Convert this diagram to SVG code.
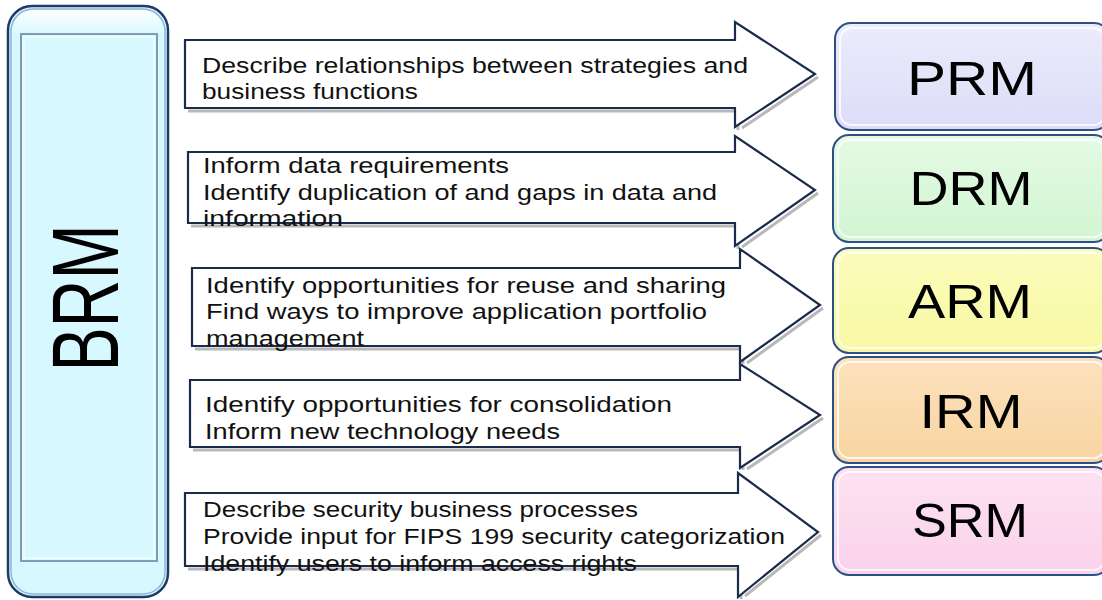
<svg xmlns="http://www.w3.org/2000/svg" width="1102" height="600" viewBox="0 0 1102 600">
<defs>
<linearGradient id="brmTop" x1="0" y1="0" x2="0" y2="1">
<stop offset="0" stop-color="#ffffff"/>
<stop offset="1" stop-color="#d8f8ff"/>
</linearGradient>
<linearGradient id="gPRM" x1="0" y1="0" x2="0" y2="1"><stop offset="0" stop-color="#ececfc"/><stop offset="1" stop-color="#dcdcf8"/></linearGradient>
<linearGradient id="gDRM" x1="0" y1="0" x2="0" y2="1"><stop offset="0" stop-color="#e4fae4"/><stop offset="1" stop-color="#d2f5d2"/></linearGradient>
<linearGradient id="gARM" x1="0" y1="0" x2="0" y2="1"><stop offset="0" stop-color="#fcfcbc"/><stop offset="1" stop-color="#f8f8a4"/></linearGradient>
<linearGradient id="gIRM" x1="0" y1="0" x2="0" y2="1"><stop offset="0" stop-color="#fce2bc"/><stop offset="1" stop-color="#f8d4a2"/></linearGradient>
<linearGradient id="gSRM" x1="0" y1="0" x2="0" y2="1"><stop offset="0" stop-color="#fde2f2"/><stop offset="1" stop-color="#fad2ea"/></linearGradient>
</defs>
<style>
.arrow{fill:#ffffff;stroke:#1b2b4b;stroke-width:2.2;stroke-linejoin:miter}
.ashadow{fill:none;stroke:#9a9a9a;stroke-width:3;opacity:0.7}
.atext{font-family:"Liberation Sans","Open Sans",sans-serif;font-size:22px;fill:#111111}
.box{stroke:#2c4f86;stroke-width:2}
.boxin{fill:none;stroke:#ffffff;stroke-width:2;opacity:0.8}
.label{font-family:"Liberation Sans","Open Sans",sans-serif;font-size:49px;fill:#000000;text-anchor:middle}
</style>

<g id="BRM">
<rect x="8" y="6" width="160" height="591" rx="24" ry="24" fill="#d8f8ff" stroke="#1f3a66" stroke-width="2.5"/>
<rect x="11" y="9" width="154" height="585" rx="22" ry="22" fill="none" stroke="#8fb6d6" stroke-width="1.5"/>
<path d="M12,34 Q14,10 36,10 L140,10 Q162,10 164,34 Z" fill="url(#brmTop)"/>
<rect x="21" y="34" width="136" height="527" fill="#d8f8ff" stroke="#7f9cb4" stroke-width="2"/>
<rect x="24" y="37" width="130" height="521" fill="none" stroke="#ffffff" stroke-width="1.5" opacity="0.8"/>
<text transform="translate(118,298) rotate(-90)" font-family="Liberation Sans, Arial, sans-serif" font-size="94" text-anchor="middle" textLength="147" lengthAdjust="spacingAndGlyphs" fill="#000">BRM</text>
</g>

<g id="connectors">
<g id="arrow1">
<path class="ashadow" d="M188,111 L738,111 L738,130 M742,128 L818,77"/>
<path class="arrow" d="M185,40 L735,40 L735,22 L815,74 L735,127 L735,108 L185,108 Z"/>
<text class="atext" x="202" y="73" textLength="546" lengthAdjust="spacingAndGlyphs">Describe relationships between strategies and</text>
<text class="atext" x="202" y="99" textLength="216" lengthAdjust="spacingAndGlyphs">business functions</text>
</g>
<g id="arrow2">
<path class="ashadow" d="M191,226 L738,226 L738,249 M742,247 L818,193"/>
<path class="arrow" d="M188,152 L735,152 L735,136 L815,190 L735,246 L735,223 L188,223 Z"/>
<text class="atext" x="203" y="173" textLength="306" lengthAdjust="spacingAndGlyphs">Inform data requirements</text>
<text class="atext" x="203" y="200" textLength="514" lengthAdjust="spacingAndGlyphs">Identify duplication of and gaps in data and</text>
<text class="atext" x="203" y="226" textLength="140" lengthAdjust="spacingAndGlyphs">information</text>
</g>
<g id="arrow3">
<path class="ashadow" d="M195,349 L743,349 L743,364 M747,363 L823,308"/>
<path class="arrow" d="M192,268 L740,268 L740,249 L820,305 L740,362 L740,346 L192,346 Z"/>
<text class="atext" x="206" y="293" textLength="520" lengthAdjust="spacingAndGlyphs">Identify opportunities for reuse and sharing</text>
<text class="atext" x="206" y="319" textLength="501" lengthAdjust="spacingAndGlyphs">Find ways to improve application portfolio</text>
<text class="atext" x="206" y="346" textLength="158" lengthAdjust="spacingAndGlyphs">management</text>
</g>
<g id="arrow4">
<path class="ashadow" d="M193,450 L743,450 L743,470 M747,469 L823,418"/>
<path class="arrow" d="M190,380 L740,380 L740,364 L820,415 L740,468 L740,447 L190,447 Z"/>
<text class="atext" x="205" y="412" textLength="467" lengthAdjust="spacingAndGlyphs">Identify opportunities for consolidation</text>
<text class="atext" x="205" y="439" textLength="355" lengthAdjust="spacingAndGlyphs">Inform new technology needs</text>
</g>
<g id="arrow5">
<path class="ashadow" d="M188,569 L741,569 L741,599 M745,596 L821,535"/>
<path class="arrow" d="M185,493 L738,493 L738,473 L818,532 L738,597 L738,566 L185,566 Z"/>
<text class="atext" x="203" y="517" textLength="435" lengthAdjust="spacingAndGlyphs">Describe security business processes</text>
<text class="atext" x="203" y="544" textLength="582" lengthAdjust="spacingAndGlyphs">Provide input for FIPS 199 security categorization</text>
<text class="atext" x="203" y="571" textLength="434" lengthAdjust="spacingAndGlyphs">Identify users to inform access rights</text>
</g>
</g>

<g id="PRM">
<rect class="box" x="835" y="23" width="275" height="107" rx="16" fill="url(#gPRM)"/>
<rect class="boxin" x="840" y="28" width="265" height="97" rx="12"/>
<text class="label" x="972" y="95" textLength="130" lengthAdjust="spacingAndGlyphs">PRM</text>
</g>
<g id="DRM">
<rect class="box" x="833" y="135" width="277" height="107" rx="16" fill="url(#gDRM)"/>
<rect class="boxin" x="838" y="140" width="267" height="97" rx="12"/>
<text class="label" x="971" y="205" textLength="123" lengthAdjust="spacingAndGlyphs">DRM</text>
</g>
<g id="ARM">
<rect class="box" x="833" y="248" width="277" height="105" rx="16" fill="url(#gARM)"/>
<rect class="boxin" x="838" y="253" width="267" height="95" rx="12"/>
<text class="label" x="970" y="318" textLength="124" lengthAdjust="spacingAndGlyphs">ARM</text>
</g>
<g id="IRM">
<rect class="box" x="833" y="357" width="277" height="106" rx="16" fill="url(#gIRM)"/>
<rect class="boxin" x="838" y="362" width="267" height="96" rx="12"/>
<text class="label" x="971" y="428" textLength="103" lengthAdjust="spacingAndGlyphs">IRM</text>
</g>
<g id="SRM">
<rect class="box" x="833" y="467" width="277" height="108" rx="16" fill="url(#gSRM)"/>
<rect class="boxin" x="838" y="472" width="267" height="98" rx="12"/>
<text class="label" x="970" y="537" textLength="116" lengthAdjust="spacingAndGlyphs">SRM</text>
</g>
</svg>
